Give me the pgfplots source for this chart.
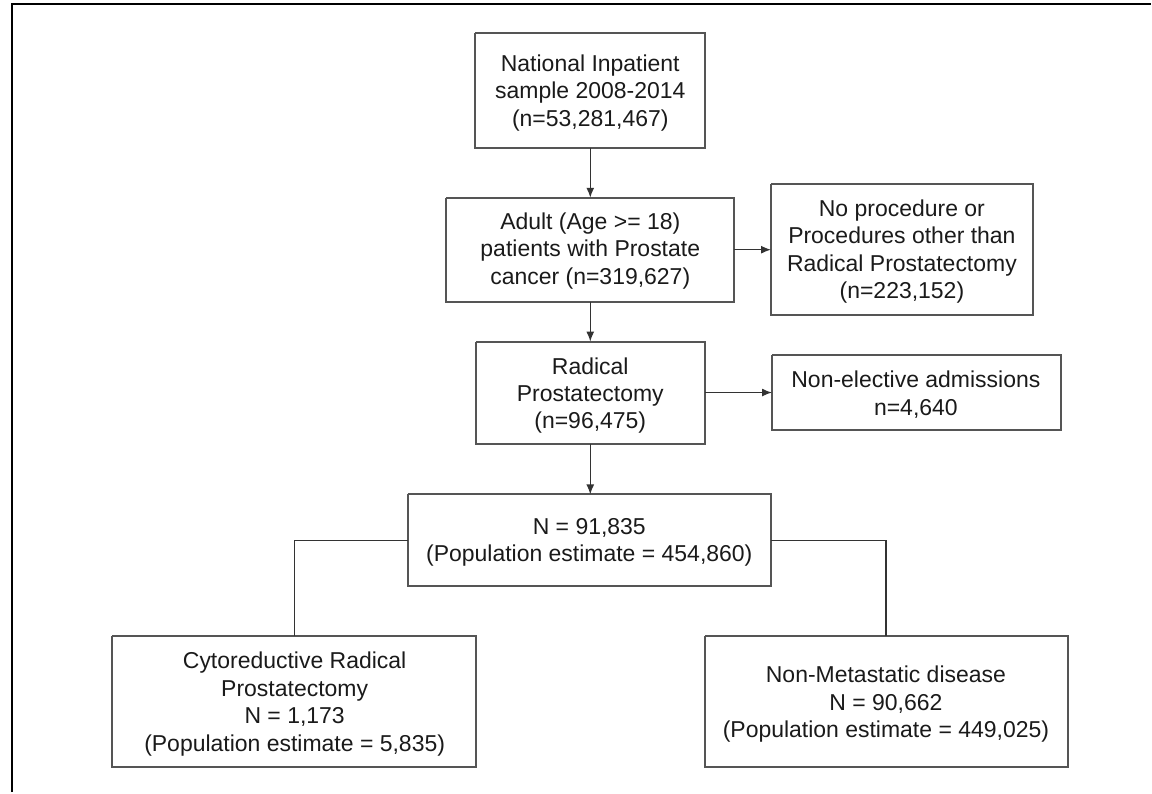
\documentclass[border=0pt]{standalone}
\usepackage{pgfplots}
\pgfplotsset{compat=1.18}
\usepackage{fontspec}
\setmainfont{Liberation Sans}
\usetikzlibrary{arrows.meta}
\definecolor{boxc}{HTML}{555555}
\definecolor{linec}{HTML}{333333}
\definecolor{txtc}{HTML}{1A1A1A}
\begin{document}
\begin{tikzpicture}
\begin{axis}[
  x=0.5pt, y=0.5pt,
  xmin=0, xmax=1152, ymin=0, ymax=793,
  y dir=reverse,
  hide axis, clip=false,
  every axis plot/.append style={line join=miter},
]
% page extent
\addplot[draw=none] coordinates {(0,0) (1152,793)};
% outer frame (left and top)
\addplot[black, line width=1.4pt] coordinates {(12,793) (12,4) (1152,4)};
% boxes
\addplot[boxc, line width=1pt] coordinates {(476,33) (706,33) (706,148) (476,148) (476,33)};
\addplot[boxc, line width=1pt] coordinates {(447,198) (735,198) (735,302) (447,302) (447,198)};
\addplot[boxc, line width=1pt] coordinates {(772,184) (1034,184) (1034,315) (772,315) (772,184)};
\addplot[boxc, line width=1pt] coordinates {(477,342) (706,342) (706,445) (477,445) (477,342)};
\addplot[boxc, line width=1pt] coordinates {(773,355) (1062,355) (1062,431) (773,431) (773,355)};
\addplot[boxc, line width=1pt] coordinates {(408,495) (772,495) (772,587) (408,587) (408,495)};
\addplot[boxc, line width=1pt] coordinates {(112,637) (477,637) (477,768) (112,768) (112,637)};
\addplot[boxc, line width=1pt] coordinates {(706,637) (1069,637) (1069,768) (706,768) (706,637)};
% arrows
\addplot[linec, line width=0.7pt, -{Latex[length=5pt,width=4pt]}] coordinates {(591,148) (591,198)};
\addplot[linec, line width=0.7pt, -{Latex[length=5pt,width=4pt]}] coordinates {(735,250) (772,250)};
\addplot[linec, line width=0.7pt, -{Latex[length=5pt,width=4pt]}] coordinates {(591,302) (591,342)};
\addplot[linec, line width=0.7pt, -{Latex[length=5pt,width=4pt]}] coordinates {(706,393) (773,393)};
\addplot[linec, line width=0.7pt, -{Latex[length=5pt,width=4pt]}] coordinates {(591,445) (591,495)};
% branch connectors
\addplot[linec, line width=0.7pt] coordinates {(408,541) (295,541) (295,637)};
\addplot[linec, line width=0.7pt] coordinates {(772,541) (887,541) (887,637)};
% texts
\tikzset{bt/.style={align=center, text=txtc, font={\fontsize{11.5}{13.75}\selectfont}, inner sep=0pt}}
\node[bt] at (axis cs:591,93) {National Inpatient\\sample 2008-2014\\(n=53,281,467)};
\node[bt] at (axis cs:591,251) {Adult (Age >= 18)\\patients with Prostate\\cancer (n=319,627)};
\node[bt] at (axis cs:903,252) {No procedure or\\Procedures other than\\Radical Prostatectomy\\(n=223,152)};
\node[bt] at (axis cs:591,396) {Radical\\Prostatectomy\\(n=96,475)};
\node[bt] at (axis cs:917,395) {Non-elective admissions\\n=4,640};
\node[bt] at (axis cs:590,543) {N = 91,835\\(Population estimate = 454,860)};
\node[bt] at (axis cs:295,705) {Cytoreductive Radical\\Prostatectomy\\N = 1,173\\(Population estimate = 5,835)};
\node[bt] at (axis cs:887,705) {Non-Metastatic disease\\N = 90,662\\(Population estimate = 449,025)};
\end{axis}
\end{tikzpicture}
\end{document}
